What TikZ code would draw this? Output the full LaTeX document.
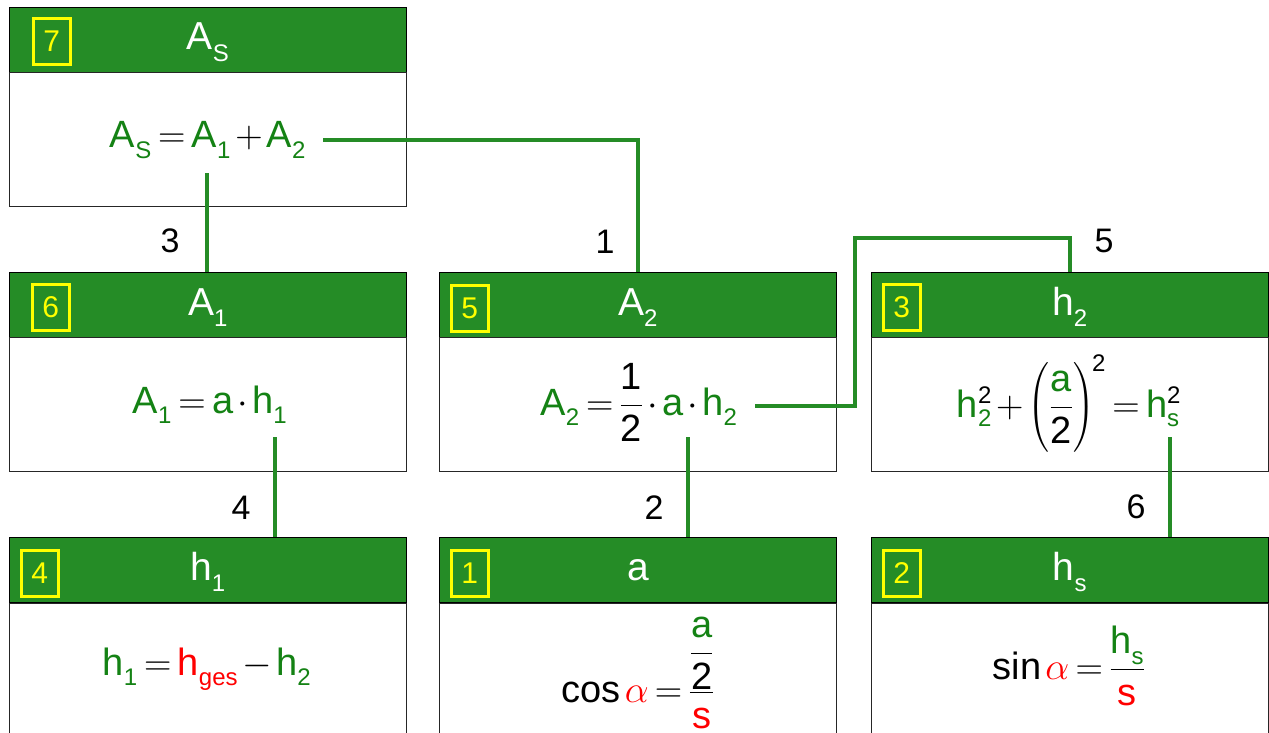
\RequirePackage{fix-cm}
\documentclass[tikz,border=0pt]{standalone}
\usepackage{amsmath}
\usepackage{fontspec}
\setmainfont{Liberation Sans}
\DeclareMathSizes{38}{38}{24}{18}
\DeclareMathSizes{39}{39}{24}{18}
\definecolor{hgreen}{RGB}{37,140,38}
\definecolor{fgreen}{RGB}{20,130,20}
\definecolor{fred}{RGB}{255,0,0}
\definecolor{nyellow}{RGB}{255,255,0}
\newcommand\gt[1]{\textcolor{fgreen}{\text{#1}}}
\newcommand\rt[1]{\textcolor{fred}{\text{#1}}}
\newcommand\wt[1]{\text{#1}}
\newcommand\gsub[1]{\textcolor{fgreen}{\text{\raisebox{-0.22em}{#1}}}}
\newcommand\rsub[1]{\textcolor{fred}{\text{\raisebox{-0.22em}{#1}}}}
\newcommand\wsub[1]{\text{\raisebox{-0.22em}{#1}}}
\newcommand\tightmath{\thickmuskip=3mu plus 1mu\medmuskip=2mu plus 1mu\thinmuskip=2mu}
\tikzset{
  hdr/.style={rectangle,draw=black,line width=1.3pt,fill=hgreen,minimum width=397pt,minimum height=65pt,anchor=north west,inner sep=0pt},
  bdy/.style={rectangle,draw=black!85,line width=1.3pt,fill=white,minimum width=397pt,minimum height=134pt,anchor=north west,inner sep=0pt},
  numbox/.style={rectangle,draw=nyellow,line width=2.6pt,minimum width=37pt,minimum height=46pt,anchor=north west,inner sep=0pt,text=nyellow,font=\fontsize{30pt}{34pt}\selectfont},
  ttl/.style={anchor=base,inner sep=0pt,text=white,font=\fontsize{39pt}{46pt}\selectfont\tightmath},
  frm/.style={anchor=base,inner sep=0pt,font=\fontsize{38pt}{46pt}\selectfont\tightmath},
  lbl/.style={anchor=base,inner sep=0pt,font=\fontsize{34pt}{40pt}\selectfont},
  conn/.style={draw=hgreen,line width=3.5pt}
}
\begin{document}
\begin{tikzpicture}[x=1pt,y=-1pt]
\useasboundingbox (0,0) rectangle (1269,733);
\clip (0,0) rectangle (1269,733);
% ---------- boxes ----------
% box 7
\node[hdr] (h7) at (9,7) {};
\node[bdy] (b7) at (9,72) {};
\node[numbox] (n7) at (32,17) {7};
\node[ttl] (t7) at (208,50) {$\wt{A}_{\wsub{S}}$};
\node[frm] (f7) at (208,148) {$\gt{A}_{\gsub{S}}=\gt{A}_{\gsub{1}}+\gt{A}_{\gsub{2}}$};
% box 6
\node[hdr] (h6) at (9,272) {};
\node[bdy] (b6) at (9,337) {};
\node[numbox] (n6) at (31,283) {6};
\node[ttl] (t6) at (208,315) {$\wt{A}_{\wsub{1}}$};
\node[frm] (f6) at (210,413) {$\gt{A}_{\gsub{1}}=\gt{a}\cdot\gt{h}_{\gsub{1}}$};
% box 5
\node[hdr] (h5) at (439,272) {};
\node[bdy] (b5) at (439,337) {};
\node[numbox] (n5) at (450,284) {5};
\node[ttl] (t5) at (638,315) {$\wt{A}_{\wsub{2}}$};
\node[frm] (f5) at (639,415) {$\gt{A}_{\gsub{2}}=\dfrac{\text{1}}{\text{2}}\cdot\gt{a}\cdot\gt{h}_{\gsub{2}}$};
% box 3
\node[hdr] (h3) at (871,272) {};
\node[bdy] (b3) at (871,337) {};
\node[numbox] (n3) at (882,283) {3};
\node[ttl] (t3) at (1070,315) {$\wt{h}_{\wsub{2}}$};
\node[frm] (f3) at (1069,417) {$\gt{h}_{\gt{2}}^{\text{2}}+\left(\dfrac{\gt{a}}{\text{2}}\vphantom{\rule[-36pt]{0pt}{88pt}}\right)^{\!\text{2}}=\gt{h}_{\gt{s}}^{\text{2}}$};
% box 4
\node[hdr] (h4) at (9,537) {};
\node[bdy] (b4) at (9,603) {};
\node[numbox] (n4) at (20,549) {4};
\node[ttl] (t4) at (208,580) {$\wt{h}_{\wsub{1}}$};
\node[frm] (f4) at (207,675) {$\gt{h}_{\gsub{1}}=\rt{h}_{\rsub{ges}}-\gt{h}_{\gsub{2}}$};
% box 1
\node[hdr] (h1) at (439,537) {};
\node[bdy] (b1) at (439,603) {};
\node[numbox] (n1) at (450,549) {1};
\node[ttl] (t1) at (638,580) {a};
\node[frm] (f1) at (638,702) {$\cos\textcolor{fred}{\alpha}=\dfrac{\dfrac{\gt{a}}{\text{2}}}{\rt{s}}$};
% box 2
\node[hdr] (h2) at (871,537) {};
\node[bdy] (b2) at (871,603) {};
\node[numbox] (n2) at (882,549) {2};
\node[ttl] (t2) at (1070,580) {$\wt{h}_{\wsub{s}}$};
\node[frm] (f2) at (1069,679) {$\sin\textcolor{fred}{\alpha}=\dfrac{\gt{h}_{\gsub{s}}}{\rt{s}}$};
% ---------- connectors ----------
\coordinate (s1) at (323,140);
\coordinate (s3) at (207,173);
\coordinate (s4) at (275,437);
\coordinate (s2) at (688,437);
\coordinate (s5) at (755,406);
\coordinate (k5) at (855,238);
\coordinate (s6) at (1170,437);
\draw[conn] (s1) -| (h5.north);
\draw[conn] (s3) -- (s3 |- h6.north);
\draw[conn] (s4) -- (s4 |- h4.north);
\draw[conn] (s2) -- (s2 |- h1.north);
\draw[conn] (s5) -| (k5) -| (h3.north);
\draw[conn] (s6) -- (s6 |- h2.north);
% ---------- labels ----------
\node[lbl] (l3) at (170,252) {3};
\node[lbl] (l1) at (605,253) {1};
\node[lbl] (l5) at (1104,252) {5};
\node[lbl] (l4) at (241,519) {4};
\node[lbl] (l2) at (654,519) {2};
\node[lbl] (l6) at (1136,518) {6};
\end{tikzpicture}
\end{document}
